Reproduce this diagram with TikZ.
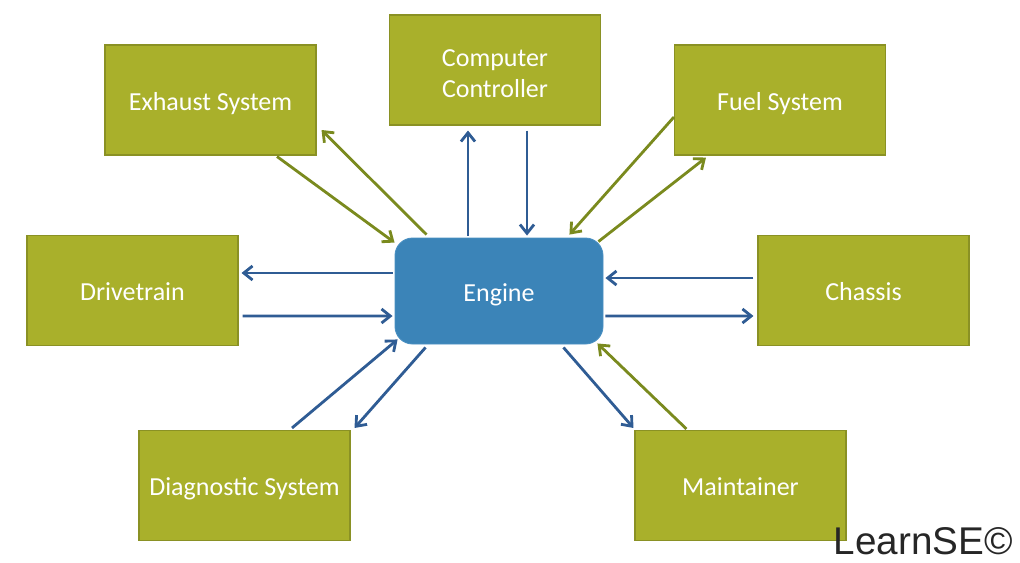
\documentclass[tikz,border=0pt]{standalone}
\usepackage{fontspec}
\setmainfont{Carlito}
\newfontfamily\logofont{Liberation Sans}
\usetikzlibrary{arrows.meta}
\definecolor{boxfill}{HTML}{A9B02B}
\definecolor{boxline}{HTML}{8A9124}
\definecolor{engfill}{HTML}{3B84B8}
\definecolor{engline}{HTML}{4A90C2}
\definecolor{bluearr}{HTML}{2F5C94}
\definecolor{olivearr}{HTML}{7A8A1E}
\definecolor{logocol}{HTML}{262626}
\newlength{\pxu}
\setlength{\pxu}{0.02cm}
\tikzset{
  sysbox/.style={rectangle, fill=boxfill, draw=boxline, line width=0.6pt,
    minimum width=211\pxu, minimum height=110\pxu, text=white, align=center,
    font=\fontsize{14.8}{17.6}\selectfont, inner sep=0pt},
  oneline/.style={text height=15pt, text depth=3.2pt},
  engbox/.style={rectangle, rounded corners=10pt, fill=engfill, draw=engline, line width=0.5pt,
    minimum width=208\pxu, minimum height=106\pxu, text=white,
    font=\fontsize{14.8}{17.6}\selectfont, inner sep=0pt, oneline},
  barr/.style={draw=bluearr, line width=1.6pt, -{Straight Barb[length=5pt,width=8pt]}},
  oarr/.style={draw=olivearr, line width=1.6pt, -{Straight Barb[length=5pt,width=8pt]}}
}
\begin{document}
\begin{tikzpicture}[x=0.02cm,y=-0.02cm]
\useasboundingbox (0,0) rectangle (1020,562);
\node[sysbox, oneline] (exh) at (210.5,100) {Exhaust System};
\node[sysbox] (comp) at (495,70) {\raisebox{-3.4pt}[\height][\depth]{\begin{tabular}{@{}c@{}}Computer\\Controller\end{tabular}}};
\node[sysbox, oneline] (fuel) at (780,100) {Fuel System};
\node[sysbox, oneline] (drv) at (132.5,290.5) {Drivetrain};
\node[sysbox, oneline] (chs) at (863.5,290.5) {Chassis};
\node[sysbox, oneline] (diag) at (244.5,485.5) {Diagnostic System};
\node[sysbox, oneline] (mnt) at (740.5,485.5) {Maintainer};
\node[engbox] (eng) at (499,291) {Engine};
% exhaust
\draw[oarr] ([shift={(66.5,1)}]exh.south) -- ([shift={(0,5)}]eng.north west);
\draw[oarr] ([shift={(32,-3)}]eng.north west) -- ([shift={(5,30)}]exh.east);
% computer
\draw[barr] ([shift={(-31,-2)}]eng.north) -- ([shift={(-27,5)}]comp.south);
\draw[barr] ([shift={(32,5)}]comp.south) -- ([shift={(28,-2)}]eng.north);
% fuel
\draw[oarr] ([shift={(0,17)}]fuel.west) -- ([shift={(-34,-3)}]eng.north east);
\draw[oarr] ([shift={(-5,4)}]eng.north east) -- ([shift={(32,2)}]fuel.south west);
% drivetrain
\draw[barr] ([shift={(-2,-18)}]eng.west) -- ([shift={(3,-17.5)}]drv.east);
\draw[barr] ([shift={(4,25.5)}]drv.east) -- ([shift={(-2,25)}]eng.west);
% chassis
\draw[barr] ([shift={(-4,-12.5)}]chs.west) -- ([shift={(2,-13)}]eng.east);
\draw[barr] ([shift={(2,25)}]eng.east) -- ([shift={(-4,25.5)}]chs.west);
% diagnostic
\draw[barr] ([shift={(47.5,-2)}]diag.north) -- ([shift={(3,-5)}]eng.south west);
\draw[barr] ([shift={(31,3)}]eng.south west) -- ([shift={(4,-2)}]diag.north east);
% maintainer
\draw[barr] ([shift={(-40,3)}]eng.south east) -- ([shift={(-1,-2)}]mnt.north west);
\draw[oarr] ([shift={(52,-1)}]mnt.north west) -- ([shift={(-6,-1)}]eng.south east);
% logo
\node[anchor=base east, text=logocol, font=\logofont\fontsize{22}{26}\selectfont, inner sep=0pt] (logo) at (1013,554) {LearnSE©};
\end{tikzpicture}
\end{document}
